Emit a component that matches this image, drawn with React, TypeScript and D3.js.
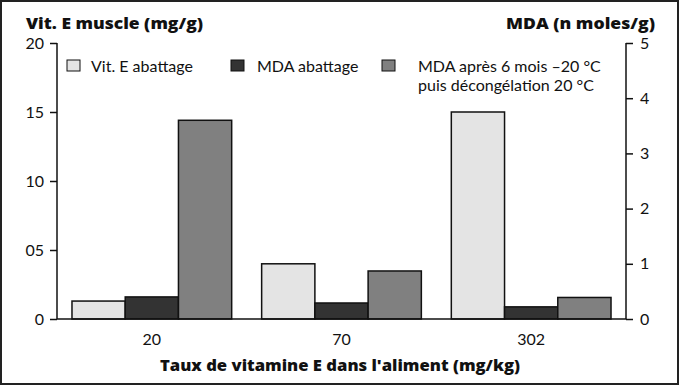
import React, { useEffect, useRef } from "react";
import * as d3 from "d3";

const categories = ["20", "70", "302"];
const vitE = [1.3, 4.0, 15.0]; // mg/g, left axis
const mdaAbattage = [0.4, 0.29, 0.22]; // n moles/g, right axis
const mdaApres = [3.6, 0.87, 0.39]; // n moles/g, right axis
const leftTicks = [0, 5, 10, 15, 20];
const leftTickLabels = ["0", "05", "10", "15", "20"];
const rightTicks = [0, 1, 2, 3, 4, 5];

const W = 679;
const H = 385;
const FONT = "Lato, 'Open Sans', sans-serif";
const BOLD = "'Open Sans', sans-serif";

const App = () => {
  const ref = useRef<SVGSVGElement>(null);

  useEffect(() => {
    const svg = d3.select(ref.current);
    svg.selectAll("*").remove();

    const left = 57, right = 626, top = 43, bottom = 319;

    // outer frame
    svg.append("rect")
      .attr("x", 1).attr("y", 1)
      .attr("width", W - 2).attr("height", H - 2)
      .attr("fill", "#fff").attr("stroke", "#222").attr("stroke-width", 2);

    const yL = d3.scaleLinear().domain([0, 20]).range([bottom, top]);
    const yR = d3.scaleLinear().domain([0, 5]).range([bottom, top]);
    const x = d3.scaleBand().domain(categories).range([left, right])
      .paddingInner(0.158).paddingOuter(0.079);
    const xs = d3.scaleBand().domain(["a", "b", "c"]).range([0, x.bandwidth()]);

    const series = [
      { key: "a", values: vitE, y: yL, fill: "#e4e4e4" },
      { key: "b", values: mdaAbattage, y: yR, fill: "#333333" },
      { key: "c", values: mdaApres, y: yR, fill: "#808080" },
    ];

    series.forEach(s => {
      svg.append("g").selectAll("rect")
        .data(categories)
        .enter()
        .append("rect")
        .attr("x", (d) => (x(d) || 0) + (xs(s.key) || 0))
        .attr("width", xs.bandwidth())
        .attr("y", (d, i) => s.y(s.values[i]))
        .attr("height", (d, i) => bottom - s.y(s.values[i]))
        .attr("fill", s.fill)
        .attr("stroke", "#111")
        .attr("stroke-width", 1.5);
    });

    // left axis
    const gl = svg.append("g").attr("transform", `translate(${left},0)`);
    gl.call(d3.axisLeft(yL).tickValues(leftTicks).tickSize(7).tickPadding(6)
      .tickFormat((d, i) => leftTickLabels[i]));
    // right axis
    const gr = svg.append("g").attr("transform", `translate(${right},0)`);
    gr.call(d3.axisRight(yR).tickValues(rightTicks).tickSize(7).tickPadding(7)
      .tickFormat(d3.format("d")));
    [gl, gr].forEach(g => {
      g.select(".domain").remove();
      g.selectAll("line").attr("stroke", "#111").attr("stroke-width", 1.5);
      g.selectAll("text").attr("font-family", FONT).attr("font-size", 16).attr("fill", "#111");
    });
    svg.append("line").attr("x1", left).attr("x2", left).attr("y1", top).attr("y2", bottom)
      .attr("stroke", "#111").attr("stroke-width", 1.5);
    svg.append("line").attr("x1", right).attr("x2", right).attr("y1", top).attr("y2", bottom)
      .attr("stroke", "#111").attr("stroke-width", 1.5);

    // x axis line
    svg.append("line").attr("x1", left).attr("x2", right).attr("y1", bottom).attr("y2", bottom)
      .attr("stroke", "#111").attr("stroke-width", 1.5);
    svg.append("g").selectAll("text")
      .data(categories)
      .enter()
      .append("text")
      .attr("x", d => (x(d) || 0) + x.bandwidth() / 2)
      .attr("y", 345)
      .attr("text-anchor", "middle")
      .attr("font-family", FONT).attr("font-size", 16).attr("fill", "#111")
      .text(d => d);

    // titles (width fitted to the original's heavy face)
    const title = (tx, ty, len, txt) => svg.append("text")
      .attr("x", tx).attr("y", ty)
      .attr("textLength", len).attr("lengthAdjust", "spacingAndGlyphs")
      .attr("font-family", BOLD).attr("font-size", 16).attr("font-weight", 800)
      .attr("fill", "#111").text(txt);
    title(26, 29, 177, "Vit. E muscle (mg/g)");
    title(506, 29, 149, "MDA (n moles/g)");
    title(160, 371, 360, "Taux de vitamine E dans l'aliment (mg/kg)");

    // legend
    const legend = [
      { x: 67, tx: 91, fill: "#e4e4e4", lines: ["Vit. E abattage"] },
      { x: 231, tx: 257, fill: "#333333", lines: ["MDA abattage"] },
      { x: 382, tx: 418, fill: "#808080", lines: ["MDA après 6 mois \u201320 °C", "puis décongélation 20 °C"] },
    ];
    legend.forEach(l => {
      svg.append("rect").attr("x", l.x).attr("y", 60).attr("width", 13).attr("height", 11)
        .attr("fill", l.fill).attr("stroke", "#111").attr("stroke-width", 1);
      const t = svg.append("text").attr("x", l.tx).attr("y", 72)
        .attr("font-family", FONT).attr("font-size", 16).attr("fill", "#111");
      l.lines.forEach((ln, i) => t.append("tspan").attr("x", l.tx).attr("dy", i === 0 ? 0 : 18.5).text(ln));
    });
  }, []);

  return (
    <svg ref={ref} width={W} height={H}
      style={{ position: "absolute", left: 0, top: 0, display: "block" }} />
  );
};

export default App;
